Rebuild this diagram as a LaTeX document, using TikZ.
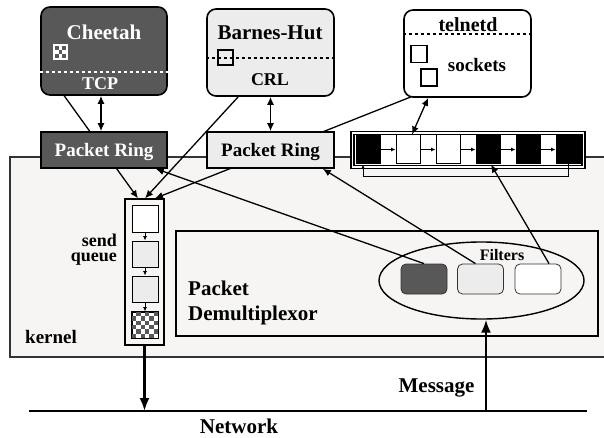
\documentclass[tikz,border=0pt]{standalone}
\usepackage{fontspec}
\setmainfont{Liberation Serif}
\usetikzlibrary{arrows.meta,shapes.geometric,calc}
\definecolor{dk}{RGB}{88,88,88}
\definecolor{lt}{RGB}{236,236,236}
\definecolor{kf}{RGB}{246,245,243}
\newcommand{\fsz}[1]{\bfseries\fontsize{#1pt}{#1pt}\selectfont}
\begin{document}
\begin{tikzpicture}[x=1pt,y=-1pt,
  box/.style={draw, line width=1.6pt, rectangle, inner sep=0pt},
  app/.style={box, rounded corners=9pt},
  cell/.style={draw, line width=1pt, rectangle, inner sep=0pt, minimum width=24pt, minimum height=29pt},
  qcell/.style={draw, line width=1pt, rectangle, inner sep=0pt, minimum width=26pt, minimum height=26pt},
  filt/.style={draw=black!80, line width=0.8pt, rectangle, rounded corners=5pt, inner sep=0pt, minimum width=46pt, minimum height=30pt},
  conn/.style={line width=1.3pt},
  arr/.style={conn, -{Latex[length=8pt,width=7pt]}},
  darr/.style={conn, {Latex[length=8pt,width=7pt]}-{Latex[length=8pt,width=7pt]}},
  sarr/.style={line width=0.8pt, -{Latex[length=4.5pt,width=4pt]}},
  bigarr/.style={line width=2.2pt, -{Latex[length=13pt,width=10pt]}},
  lbl/.style={inner sep=0pt, anchor=base}]
\useasboundingbox (0,0) rectangle (604,438);
% kernel area
\fill[kf] (10,157) rectangle (604,357);
\draw[line width=1.1pt, black!80] (604,157) -- (10,157) -- (10,357) -- (604,357);
\node[lbl, anchor=base west, font=\fsz{19}] (kernel) at (25,343) {kernel};
% packet demultiplexor
\node[box, line width=1.4pt, minimum width=422pt, minimum height=105pt] (demux) at (387,283.5) {};
\node[lbl, anchor=base west, font=\fsz{21}] (tpk) at (188,295) {Packet};
\node[lbl, anchor=base west, font=\fsz{21}] (tdm) at (188,320) {Demultiplexor};
\node[draw, ellipse, line width=1.4pt, minimum width=205pt, minimum height=77pt, inner sep=0pt] (filt) at (481.5,280.5) {};
\node[lbl, font=\fsz{16}] (tfilt) at (502,260) {Filters};
\node[filt, fill=dk] (fD) at (424,279) {};
\node[filt, fill=lt] (fL) at (480.5,279) {};
\node[filt, fill=white] (fW) at (538,279) {};
% applications
\node[app, fill=dk, minimum width=126pt, minimum height=88pt] (cheetah) at (104,51) {};
\node[app, fill=lt, minimum width=127pt, minimum height=87pt] (barnes) at (270.5,52.5) {};
\node[app, fill=white, minimum width=127pt, minimum height=87pt] (telnetd) at (467.5,53.5) {};
\draw[white, dashed, line width=1.1pt] (cheetah.west |- 0,72) -- (cheetah.east |- 0,72);
\draw[black, dashed, line width=1.1pt] (barnes.west |- 0,58) -- (barnes.east |- 0,58);
\draw[black, dashed, line width=1.1pt] (telnetd.west |- 0,34) -- (telnetd.east |- 0,34);
\node[lbl, text=white, font=\fsz{21}] (tch) at (104,40) {Cheetah};
\node[lbl, text=white, font=\fsz{18}] (ttcp) at (100,90) {TCP};
\node[lbl, font=\fsz{21}] (tbh) at (270,40) {Barnes-Hut};
\node[lbl, font=\fsz{18}] (tcrl) at (270,86) {CRL};
\node[lbl, font=\fsz{20}] (ttel) at (468,32) {telnetd};
\node[lbl, font=\fsz{19}] (tsock) at (477,72) {sockets};
% small checker in Cheetah
\node[draw=white, fill=white, line width=0.8pt, minimum width=14pt, minimum height=15pt, inner sep=0pt] (chk) at (60.5,51.5) {};
\foreach \i in {0,1,2} \foreach \j in {0,1,2} {
  \pgfmathtruncatemacro\k{mod(\i+\j,2)}
  \ifnum\k=0 \fill[dk] (55+\i*3.7,46+\j*3.9) rectangle ++(3.7,3.9); \fi}
% small boxes
\node[draw, line width=1.1pt, minimum width=15pt, minimum height=15pt, inner sep=0pt] (bsq) at (225.5,57.5) {};
\node[draw, line width=1.1pt, minimum width=16pt, minimum height=17pt, inner sep=0pt] (s1) at (419,54) {};
\node[draw, line width=1.1pt, minimum width=16pt, minimum height=17pt, inner sep=0pt] (s2) at (429,77.5) {};
% send queue
\node[box, line width=1.3pt, fill=kf, minimum width=39pt, minimum height=146pt] (sq) at (144.5,272) {};
\node[qcell, fill=white] (q1) at (145,219) {};
\node[qcell, fill=lt] (q2) at (145,254) {};
\node[qcell, fill=lt] (q3) at (145,289) {};
\node[qcell, fill=white] (q4) at (145,325) {};
\foreach \i in {0,...,5} \foreach \j in {0,...,5} {
  \pgfmathtruncatemacro\k{mod(\i+\j,2)}
  \ifnum\k=1 \fill[dk] (132+\i*26/6,312+\j*26/6) rectangle ++(26/6,26/6); \fi}
\draw[line width=1pt] (q4.north west) rectangle (q4.south east);
\draw[sarr] (q1) -- (q2);
\draw[sarr] (q2) -- (q3);
\draw[sarr] (q3) -- (q4);
\node[lbl, anchor=base east, font=\fsz{18}] (tsend) at (117,246) {send};
\node[lbl, anchor=base east, font=\fsz{18}] (tqueue) at (117,261) {queue};
% long lines to send queue (behind rings)
\draw[arr] ($(cheetah.south west)+(24,0)$) -- ($(sq.north)+(-6.5,0)$);
\draw[arr] ($(barnes.south west)+(32,0)$) -- ($(sq.north)+(0.5,0)$);
\draw[arr] ($(telnetd.south west)+(8,-1)$) -- ($(sq.north)+(10.5,0)$);
% packet rings
\node[box, fill=dk, minimum width=126pt, minimum height=36pt] (ringD) at (104,150) {};
\node[lbl, text=white, font=\fsz{19}] (trD) at (104,157) {Packet Ring};
\node[box, fill=lt, minimum width=127pt, minimum height=36pt] (ringL) at (270.5,150) {};
\node[lbl, font=\fsz{19}] (trL) at (270.5,157) {Packet Ring};
% socket ring
\node[draw, line width=1.1pt, fill=white, minimum width=234pt, minimum height=37pt, inner sep=0pt] (ring) at (468,150) {};
\node[draw, line width=1.1pt, minimum width=228pt, minimum height=31pt, inner sep=0pt] (ringi) at (468,150) {};
\node[cell, fill=black] (c1) at (368,149.5) {};
\node[cell, fill=white] (c2) at (408,149.5) {};
\node[cell, fill=white] (c3) at (448,149.5) {};
\node[cell, fill=black] (c4) at (488,149.5) {};
\node[cell, fill=black] (c5) at (528,149.5) {};
\node[cell, fill=black] (c6) at (568,149.5) {};
\foreach \a/\b in {c1/c2,c2/c3,c3/c4,c4/c5,c5/c6} \draw[sarr] (\a) -- (\b);
\draw[sarr] (c6.south) -- ++(0,12) -| ($(c1.south)+(-5,0)$);
% app <-> ring arrows
\draw[darr] ($(cheetah.south)+(-3,0)$) -- ($(ringD.north)+(-3,0)$);
\draw[darr] (barnes.south) -- (ringL.north);
\draw[darr] ($(telnetd.south west)+(25,0)$) -- ($(c2.north)+(4,0)$);
% filters to rings
\draw[arr] (fD.north) -- ($(ringD.south east)+(-12,0)$);
\draw[arr] ($(fL.north)+(-5,0)$) -- ($(ringL.south east)+(-12,0)$);
\draw[arr] ($(fW.north)+(11,0)$) -- ($(c4.south)+(3,0)$);
% network
\coordinate (netL) at (29,411);
\coordinate (netR) at (587,411);
\coordinate (netA) at (144.5,411);
\coordinate (netB) at (486,411);
\draw[line width=2.4pt] (netL) -- (netR);
\draw[bigarr] (sq.south) -- (netA);
\draw[bigarr] (netB) -- ($(filt.south)+(4.5,0)$);
\node[lbl, font=\fsz{21}] (tnet) at (239,433) {Network};
\node[lbl, font=\fsz{21}] (tmsg) at (436.5,392) {Message};
\end{tikzpicture}
\end{document}
